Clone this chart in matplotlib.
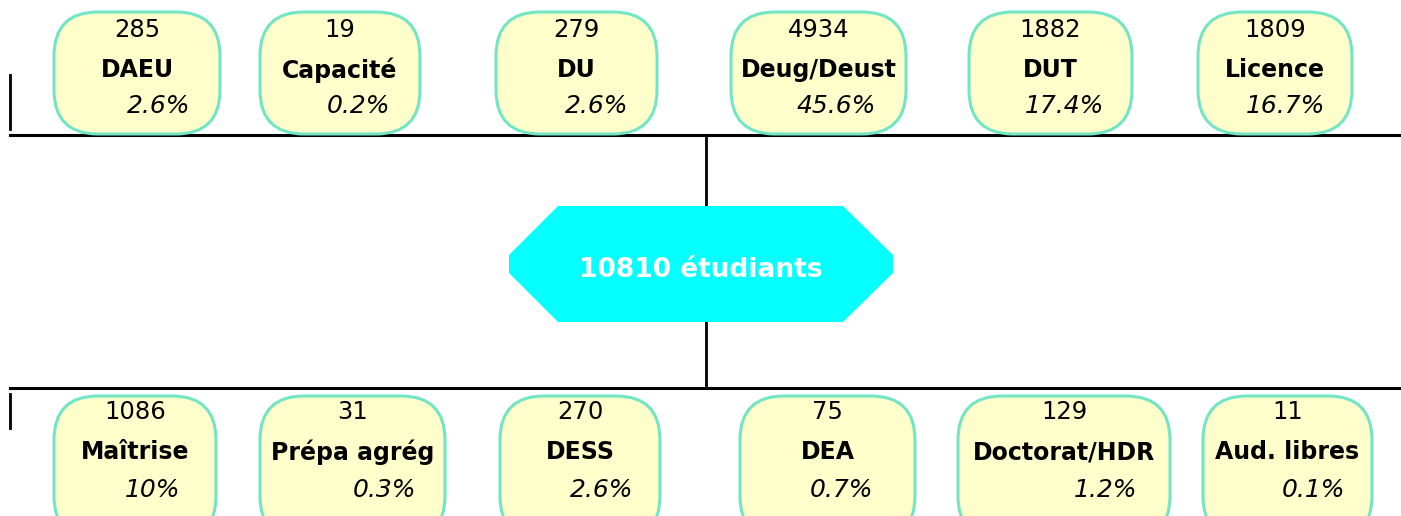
import matplotlib.pyplot as plt
from matplotlib.patches import FancyBboxPatch, Polygon

# data
top_labels = ["DAEU", "Capacité", "DU", "Deug/Deust", "DUT", "Licence"]
top_counts = [285, 19, 279, 4934, 1882, 1809]
top_pcts = ["2.6%", "0.2%", "2.6%", "45.6%", "17.4%", "16.7%"]

bottom_labels = ["Maîtrise", "Prépa agrég", "DESS", "DEA", "Doctorat/HDR",
                 "Aud. libres"]
bottom_counts = [1086, 31, 270, 75, 129, 11]
bottom_pcts = ["10%", "0.3%", "2.6%", "0.7%", "1.2%", "0.1%"]

total_label = "10810 étudiants"

# layout (pixel units): left, right of each box, x offset of percentage
top_boxes = [(54, 220, 22), (260, 420, 18), (496, 657, 20), (731, 906, 18),
             (969, 1132, 14), (1198, 1352, 10)]
bottom_boxes = [(54, 216, 18), (260, 445, 32), (500, 660, 22), (740, 915, 14),
                (958, 1170, 42), (1203, 1372, 26)]

FILL = "#ffffcc"
EDGE = "#72e6c4"

fig = plt.figure(figsize=(14.01, 5.16), dpi=100)
ax = fig.add_axes([0, 0, 1, 1])
ax.set_xlim(0, 1401)
ax.set_ylim(516, 0)
ax.axis("off")


def draw_row(labels, counts, pcts, boxes, y0, y1, ys):
    for lab, n, p, (x0, x1, dx) in zip(labels, counts, pcts, boxes):
        box = FancyBboxPatch((x0, y0), x1 - x0, y1 - y0,
                             boxstyle="round,pad=0,rounding_size=44",
                             fc=FILL, ec=EDGE, lw=2.2, zorder=2)
        ax.add_patch(box)
        cx = (x0 + x1) / 2
        ax.text(cx, ys[0], str(n), ha="center", va="center", fontsize=17.5,
                zorder=3)
        ax.text(cx, ys[1], lab, ha="center", va="center", fontsize=17,
                fontweight="bold", zorder=3)
        ax.text(cx + dx, ys[2], p, ha="center", va="center", fontsize=18,
                style="italic", zorder=3)


# connector lines
ax.plot([10, 1401], [135, 135], color="black", lw=2.2, zorder=1)
ax.plot([10, 1401], [388, 388], color="black", lw=2.2, zorder=1)
ax.plot([10, 10], [75, 129], color="black", lw=2, zorder=1)
ax.plot([10, 10], [394, 428], color="black", lw=2, zorder=1)
ax.plot([706, 706], [135, 388], color="black", lw=2, zorder=1)

draw_row(top_labels, top_counts, top_pcts, top_boxes, 12, 134, (30, 70, 106))
draw_row(bottom_labels, bottom_counts, bottom_pcts, bottom_boxes, 396, 540,
         (412, 452, 490))

hexagon = Polygon([(558, 206), (843, 206), (893, 255), (893, 273),
                   (843, 322), (558, 322), (509, 273), (509, 255)],
                  closed=True, fc="#05ffff", ec="none", zorder=4)
ax.add_patch(hexagon)
ax.text(701, 270, total_label, ha="center", va="center", fontsize=19,
        fontweight="bold", color="white", zorder=5)

fig.savefig("out.png", dpi=100)
